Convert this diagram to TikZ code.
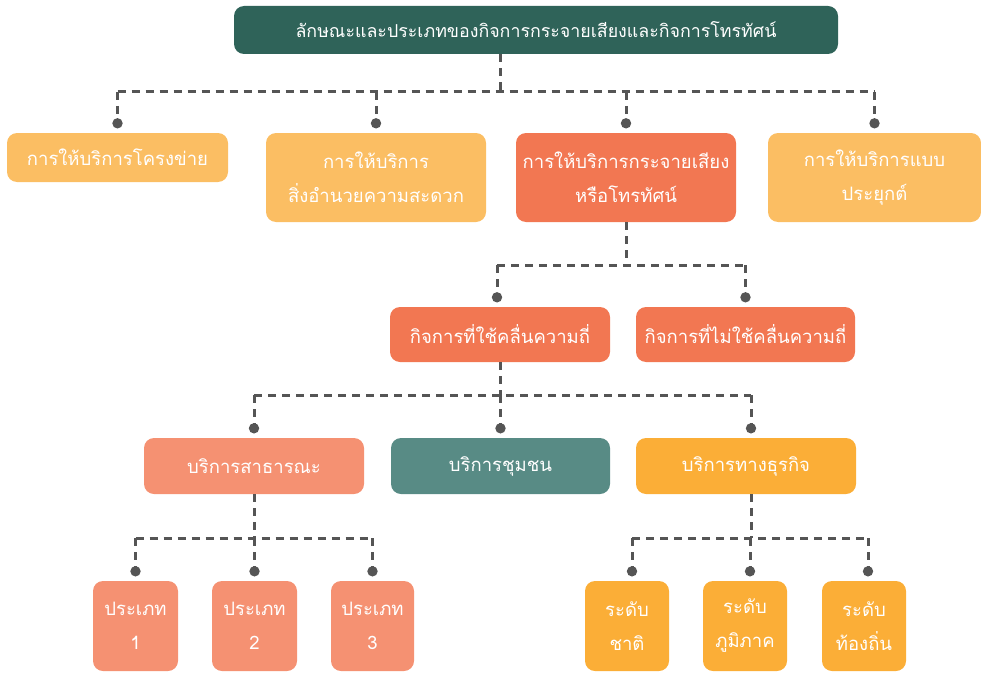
\documentclass[tikz,border=0pt]{standalone}
\usepackage{fontspec}
\newfontfamily\thaifont[Script=Thai]{Loma}
\usetikzlibrary{calc}
\definecolor{cTop}{RGB}{47,99,89}
\definecolor{cLight}{RGB}{251,190,99}
\definecolor{cCoral}{RGB}{242,119,82}
\definecolor{cSalmon}{RGB}{245,145,114}
\definecolor{cTeal}{RGB}{88,139,133}
\definecolor{cOrange}{RGB}{251,174,55}
\definecolor{cLine}{RGB}{85,85,85}
\tikzset{
  box/.style={rectangle, rounded corners=10pt, draw=none, text=white, align=center,
    inner sep=0pt, font=\thaifont\fontsize{18.5}{34}\selectfont},
  conn/.style={draw=cLine, line width=3pt, dash pattern=on 8pt off 6pt},
  dotc/.style={fill=cLine},
}
\newcommand{\mkbox}[7]{% name, color, x1, y1, x2, y2, text
  \node[box, fill=#2, minimum width={(#5-#3)*1pt}, minimum height={(#6-#4)*1pt}]
    (#1) at ({(#3+#5)/2},{(#4+#6)/2}) {#7};}
\newcommand{\drop}[3][0pt]{% [xshift] child, bus
  \draw[conn] ([xshift=#1]#2.north |- #3) -- ([xshift=#1,yshift=9.5pt]#2.north);
  \fill[dotc] ([xshift=#1,yshift=9.5pt]#2.north) circle (5.2pt);}
\begin{document}
\begin{tikzpicture}[x=1pt,y=-1pt]
\useasboundingbox (0,0) rectangle (981,674);
% top
\node[box, fill=cTop, minimum width=604pt, minimum height=48pt, font=\thaifont\fontsize{17.8}{24}\selectfont]
  (top) at (536,30) {ลักษณะและประเภทของกิจการกระจายเสียงและกิจการโทรทัศน์};
% row 1
\mkbox{nA}{cLight}{7}{133}{228}{182}{การให้บริการโครงข่าย}
\mkbox{nB}{cLight}{266}{133}{486}{222}{การให้บริการ\\สิ่งอำนวยความสะดวก}
\mkbox{nC}{cCoral}{516}{133}{736}{222}{การให้บริการกระจายเสียง\\หรือโทรทัศน์}
\mkbox{nD}{cLight}{768}{133}{981}{222}{การให้บริการแบบ\\ประยุกต์}
% row 2
\mkbox{nE}{cCoral}{390}{307}{610}{362}{กิจการที่ใช้คลื่นความถี่}
\mkbox{nF}{cCoral}{636}{307}{855}{362}{กิจการที่ไม่ใช้คลื่นความถี่}
% row 3
\mkbox{nG}{cSalmon}{144}{438}{364}{494}{บริการสาธารณะ}
\mkbox{nH}{cTeal}{391}{438}{610}{494}{บริการชุมชน}
\mkbox{nI}{cOrange}{636}{438}{856}{494}{บริการทางธุรกิจ}
% row 4
\mkbox{nJ}{cSalmon}{93}{581}{178}{671}{ประเภท\\1}
\mkbox{nK}{cSalmon}{212}{581}{297}{671}{ประเภท\\2}
\mkbox{nL}{cSalmon}{331}{581}{414}{671}{ประเภท\\3}
\mkbox{nM}{cOrange}{585}{581}{669}{671}{ระดับ\\ชาติ}
\mkbox{nN}{cOrange}{703}{581}{787}{671}{ระดับ\\ภูมิภาค}
\mkbox{nO}{cOrange}{822}{581}{906}{671}{ระดับ\\ท้องถิ่น}
% buses
\coordinate (bus1) at (0,92);
\coordinate (bus2) at (0,265);
\coordinate (bus3) at (0,395);
\coordinate (bus4) at (0,538);
% level 1
\draw[conn] ([xshift=-36pt]top.south) -- ([xshift=-36pt]top.south |- bus1);
\draw[conn] (nA.north |- bus1) -- (nD.north |- bus1);
\drop{nA}{bus1}\drop{nB}{bus1}\drop{nC}{bus1}\drop{nD}{bus1}
% level 2
\draw[conn] (nC.south) -- (nC.south |- bus2);
\draw[conn] ([xshift=-3pt]nE.north |- bus2) -- (nF.north |- bus2);
\drop[-3pt]{nE}{bus2}\drop{nF}{bus2}
% level 3
\draw[conn] (nE.south) -- (nE.south |- bus3);
\draw[conn] (nG.north |- bus3) -- ([xshift=5pt]nI.north |- bus3);
\drop{nG}{bus3}\drop{nH}{bus3}\drop[5pt]{nI}{bus3}
% level 4
\draw[conn] (nG.south) -- (nG.south |- bus4);
\draw[conn] (nJ.north |- bus4) -- (nL.north |- bus4);
\drop{nJ}{bus4}\drop{nK}{bus4}\drop{nL}{bus4}
\draw[conn] ([xshift=5pt]nI.south) -- ([xshift=5pt]nI.south |- bus4);
\draw[conn] ([xshift=5pt]nM.north |- bus4) -- ([xshift=4pt]nO.north |- bus4);
\drop[5pt]{nM}{bus4}\drop[5pt]{nN}{bus4}\drop[4pt]{nO}{bus4}
\end{tikzpicture}
\end{document}
